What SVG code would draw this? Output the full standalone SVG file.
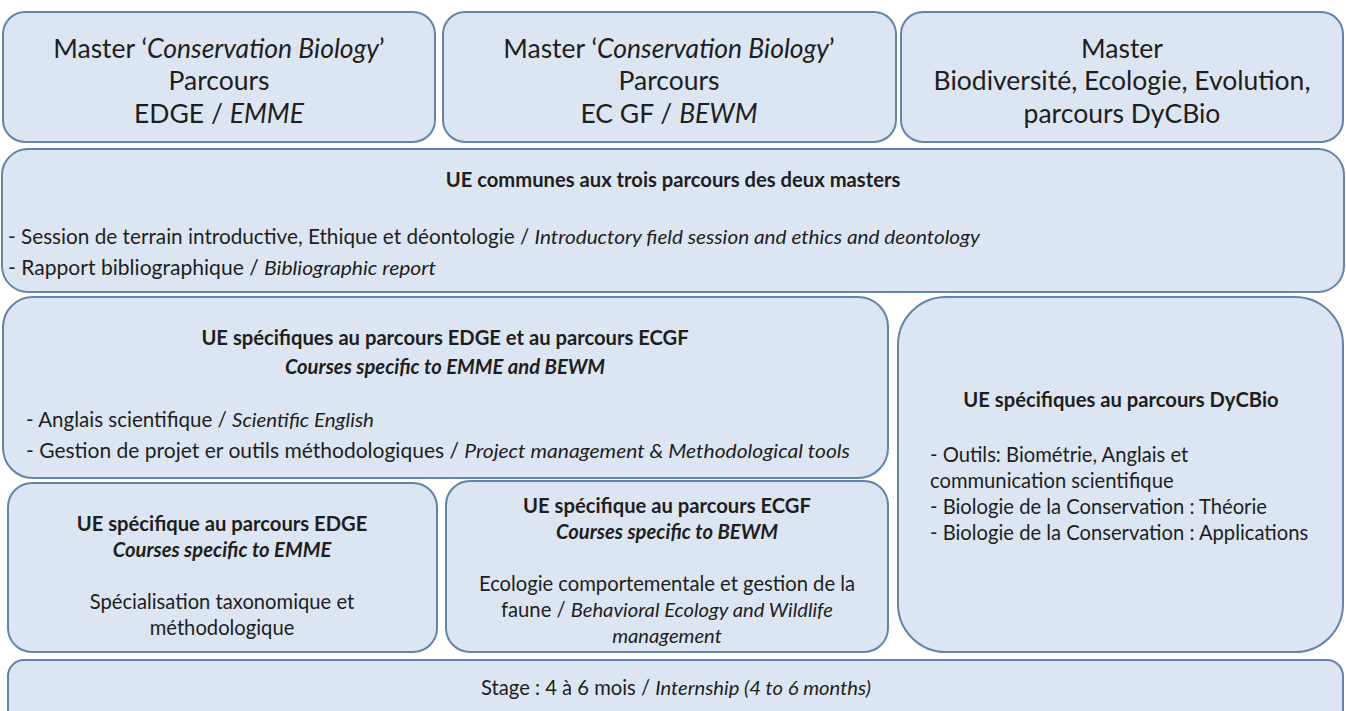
<svg xmlns="http://www.w3.org/2000/svg" width="1346" height="711" viewBox="0 0 1346 711">
  <style>
    .box { fill: #dce6f2; stroke: #6483aa; stroke-width: 2; }
    text { font-family: Lato, "Liberation Sans", sans-serif; fill: #1e1e1e; }
    .head { font-size: 26.5px; text-anchor: middle; }
    .body { font-size: 20.2px; }
    .mid { text-anchor: middle; }
    .b { font-weight: bold; }
    .i { font-style: italic; }
  </style>
  <rect width="1346" height="711" fill="#ffffff"/>

  <g id="master-edge">
    <rect class="box" x="3" y="12" width="432" height="130" rx="22"/>
    <text class="head" x="219" y="58">Master ‘<tspan class="i">Conservation Biology</tspan>’</text>
    <text class="head" x="219" y="90">Parcours</text>
    <text class="head" x="219" y="123">EDGE / <tspan class="i">EMME</tspan></text>
  </g>

  <g id="master-ecgf">
    <rect class="box" x="443" y="12" width="453" height="130" rx="22"/>
    <text class="head" x="669" y="58">Master ‘<tspan class="i">Conservation Biology</tspan>’</text>
    <text class="head" x="669" y="90">Parcours</text>
    <text class="head" x="669" y="123">EC GF / <tspan class="i">BEWM</tspan></text>
  </g>

  <g id="master-dycbio">
    <rect class="box" x="901" y="12" width="442" height="130" rx="22"/>
    <text class="head" x="1122" y="58">Master</text>
    <text class="head" x="1122" y="90">Biodiversité, Ecologie, Evolution,</text>
    <text class="head" x="1122" y="123">parcours DyCBio</text>
  </g>

  <g id="ue-communes">
    <rect class="box" x="2" y="149" width="1342" height="143" rx="26"/>
    <text class="body b mid" x="673" y="187">UE communes aux trois parcours des deux masters</text>
    <text class="body" x="8" y="244" textLength="972" lengthAdjust="spacingAndGlyphs">- Session de terrain introductive, Ethique et déontologie / <tspan class="i">Introductory field session and ethics and deontology</tspan></text>
    <text class="body" x="8" y="275" textLength="428" lengthAdjust="spacingAndGlyphs">- Rapport bibliographique / <tspan class="i">Bibliographic report</tspan></text>
  </g>

  <g id="ue-edge-ecgf">
    <rect class="box" x="3" y="297" width="885" height="181" rx="30"/>
    <text class="body b mid" x="445" y="345">UE spécifiques au parcours EDGE et au parcours ECGF</text>
    <text class="body b i mid" x="445" y="374">Courses specific to EMME and BEWM</text>
    <text class="body" x="26" y="427" textLength="348" lengthAdjust="spacingAndGlyphs">- Anglais scientifique / <tspan class="i">Scientific English</tspan></text>
    <text class="body" x="26" y="458" textLength="824" lengthAdjust="spacingAndGlyphs">- Gestion de projet er outils méthodologiques / <tspan class="i">Project management &amp; Methodological tools</tspan></text>
  </g>

  <g id="ue-dycbio">
    <rect class="box" x="898" y="297" width="445" height="355" rx="48"/>
    <text class="body b mid" x="1121" y="407">UE spécifiques au parcours DyCBio</text>
    <text class="body" x="930" y="462">- Outils: Biométrie, Anglais et</text>
    <text class="body" x="930" y="488">communication scientifique</text>
    <text class="body" x="930" y="514">- Biologie de la Conservation : Théorie</text>
    <text class="body" x="930" y="540">- Biologie de la Conservation : Applications</text>
  </g>

  <g id="ue-edge">
    <rect class="box" x="8" y="483" width="429" height="169" rx="24"/>
    <text class="body b mid" x="222" y="531">UE spécifique au parcours EDGE</text>
    <text class="body b i mid" x="222" y="557">Courses specific to EMME</text>
    <text class="body mid" x="222" y="609">Spécialisation taxonomique et</text>
    <text class="body mid" x="222" y="635">méthodologique</text>
  </g>

  <g id="ue-ecgf">
    <rect class="box" x="446" y="481" width="442" height="171" rx="24"/>
    <text class="body b mid" x="667" y="513">UE spécifique au parcours ECGF</text>
    <text class="body b i mid" x="667" y="539">Courses specific to BEWM</text>
    <text class="body mid" x="667" y="591">Ecologie comportementale et gestion de la</text>
    <text class="body mid" x="667" y="617">faune / <tspan class="i">Behavioral Ecology and Wildlife</tspan></text>
    <text class="body i mid" x="667" y="643">management</text>
  </g>

  <g id="stage">
    <rect class="box" x="8" y="660" width="1335" height="70" rx="16"/>
    <text class="body mid" x="676" y="695">Stage : 4 à 6 mois / <tspan class="i">Internship (4 to 6 months)</tspan></text>
  </g>

  <g id="connectors"/>
</svg>
